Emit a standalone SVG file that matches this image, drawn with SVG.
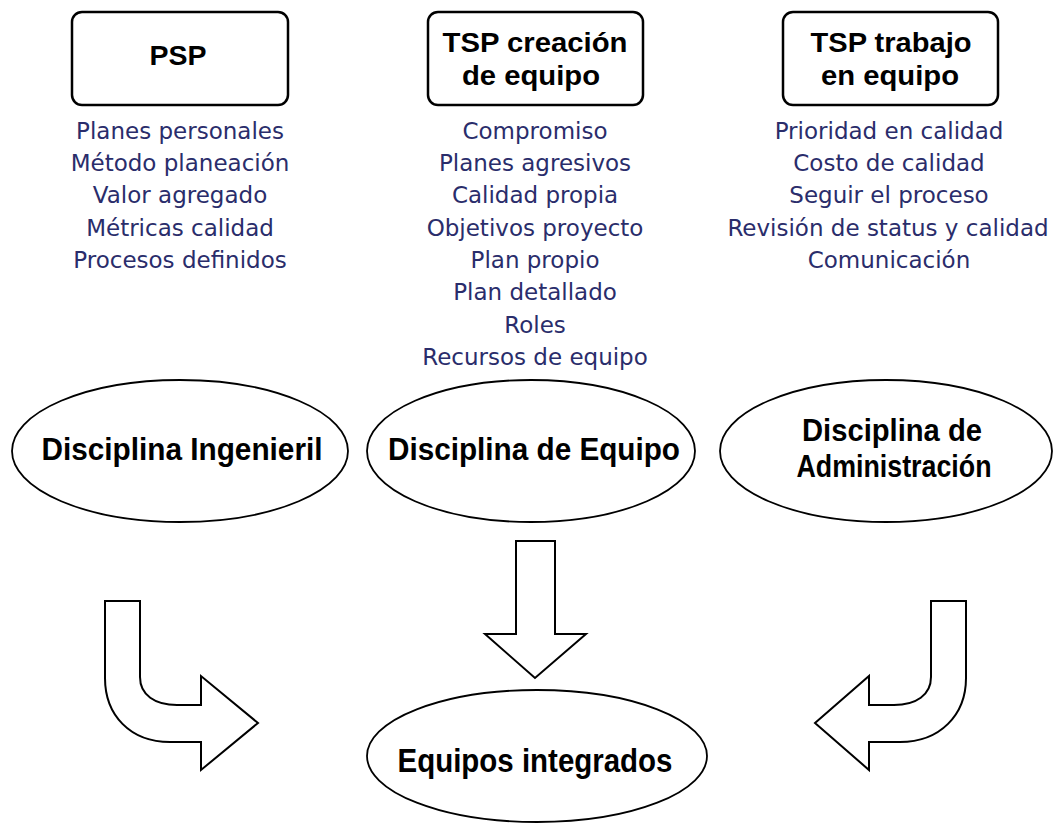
<svg xmlns="http://www.w3.org/2000/svg" width="1053" height="824" viewBox="0 0 1053 824">
<style>
.box{fill:#fff;stroke:#000;stroke-width:2.5}
.ell{fill:#fff;stroke:#000;stroke-width:1.8}
.arr{fill:#fff;stroke:#000;stroke-width:2;stroke-linejoin:miter}
.hd{font-family:"Liberation Sans",Arial,sans-serif;font-weight:bold;font-size:28px;fill:#000;text-anchor:middle}
.el{font-family:"Liberation Sans",Arial,sans-serif;font-weight:bold;font-size:31px;fill:#000;text-anchor:middle}
.li{font-family:"DejaVu Sans",Verdana,sans-serif;font-size:23px;fill:#2a2d6b;text-anchor:middle}
</style>
<rect width="1053" height="824" fill="#fff"/>
<g id="psp">
<rect class="box" x="72" y="12" width="216" height="93" rx="10"/>
<text class="hd" x="178" y="65" textLength="57" lengthAdjust="spacingAndGlyphs">PSP</text>
</g>
<g id="psp-list">
<text class="li" x="180" y="139">Planes personales</text>
<text class="li" x="180" y="171">Método planeación</text>
<text class="li" x="180" y="203">Valor agregado</text>
<text class="li" x="180" y="236">Métricas calidad</text>
<text class="li" x="180" y="268">Procesos definidos</text>
</g>
<g id="tsp-creacion">
<rect class="box" x="428" y="12" width="215" height="93" rx="10"/>
<text class="hd" x="535" y="52" textLength="185" lengthAdjust="spacingAndGlyphs">TSP creación</text>
<text class="hd" x="531" y="85" textLength="138" lengthAdjust="spacingAndGlyphs">de equipo</text>
</g>
<g id="tsp-creacion-list">
<text class="li" x="535" y="139">Compromiso</text>
<text class="li" x="535" y="171">Planes agresivos</text>
<text class="li" x="535" y="203">Calidad propia</text>
<text class="li" x="535" y="236">Objetivos proyecto</text>
<text class="li" x="535" y="268">Plan propio</text>
<text class="li" x="535" y="300">Plan detallado</text>
<text class="li" x="535" y="333">Roles</text>
<text class="li" x="535" y="365">Recursos de equipo</text>
</g>
<g id="tsp-trabajo">
<rect class="box" x="783" y="12" width="215" height="93" rx="10"/>
<text class="hd" x="891" y="52" textLength="161" lengthAdjust="spacingAndGlyphs">TSP trabajo</text>
<text class="hd" x="890" y="85" textLength="138" lengthAdjust="spacingAndGlyphs">en equipo</text>
</g>
<g id="tsp-trabajo-list">
<text class="li" x="889" y="139">Prioridad en calidad</text>
<text class="li" x="889" y="171">Costo de calidad</text>
<text class="li" x="889" y="203">Seguir el proceso</text>
<text class="li" x="888" y="236">Revisión de status y calidad</text>
<text class="li" x="889" y="268">Comunicación</text>
</g>
<g id="disciplina-ingenieril">
<ellipse class="ell" cx="180" cy="451" rx="168" ry="71"/>
<text class="el" x="182" y="460" textLength="281" lengthAdjust="spacingAndGlyphs">Disciplina Ingenieril</text>
</g>
<g id="disciplina-equipo">
<ellipse class="ell" cx="531" cy="451" rx="164" ry="71"/>
<text class="el" x="534" y="460" textLength="292" lengthAdjust="spacingAndGlyphs">Disciplina de Equipo</text>
</g>
<g id="disciplina-administracion">
<ellipse class="ell" cx="886" cy="451" rx="166" ry="71"/>
<text class="el" x="892" y="441" textLength="180" lengthAdjust="spacingAndGlyphs">Disciplina de</text>
<text class="el" x="894" y="477" textLength="195" lengthAdjust="spacingAndGlyphs">Administración</text>
</g>
<g id="equipos-integrados">
<ellipse class="ell" cx="537" cy="756" rx="170" ry="66"/>
<text class="el" x="535" y="772" textLength="275" lengthAdjust="spacingAndGlyphs" style="font-size:33px">Equipos integrados</text>
</g>
<g id="connectors">
<path class="arr" d="M105,601 L140,601 L140,677 C140,695 155,705 177,705 L201,705 L201,676 L258,723 L201,770 L201,742 L170,742 C130,742 105,715 105,678 Z"/>
<path class="arr" d="M516,541 L555,541 L555,634 L586,634 L535,678 L485,634 L516,634 Z"/>
<path class="arr" d="M966,601 L931,601 L931,677 C931,695 916,705 894,705 L869,705 L869,676 L815,723 L869,770 L869,742 L900,742 C940,742 966,715 966,678 Z"/>
</g>
</svg>
